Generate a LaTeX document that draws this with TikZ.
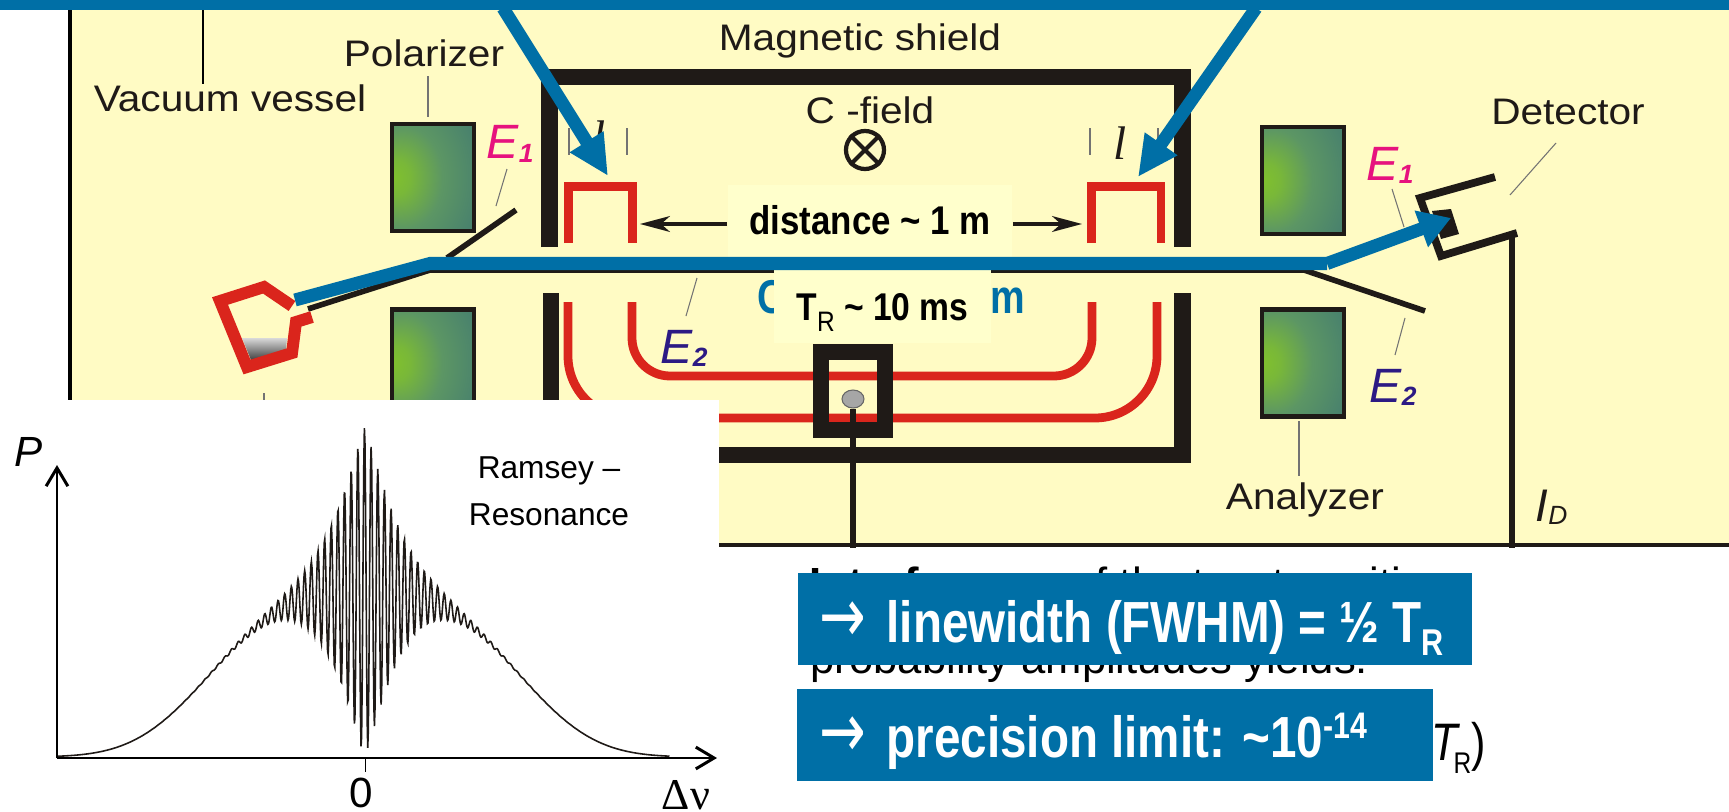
\documentclass[tikz,border=0pt]{standalone}
\usepackage{fontspec}
\usepackage{tikz}
\usepackage{xcolor}
\usetikzlibrary{arrows.meta, positioning, shapes}
\setmainfont{Liberation Sans}
\newfontfamily\widesans[FakeStretch=1.1]{Liberation Sans}
\newfontfamily\narrowsans[FakeStretch=0.82]{Liberation Sans}
\newfontfamily\distsans[FakeStretch=0.87]{Liberation Sans}
\newfontfamily\arrowsans[FakeStretch=0.72]{DejaVu Sans}
\newfontfamily\serifsym{Liberation Serif}
\newcommand{\fs}[1]{\fontsize{#1}{#1}\selectfont}
\definecolor{myblue}{RGB}{0, 111, 166}
\definecolor{myred}{RGB}{218, 37, 28}
\definecolor{myblack}{RGB}{31, 26, 23}
\definecolor{myyellow}{RGB}{255, 251, 196}
\definecolor{mypale}{RGB}{255, 255, 204}
\definecolor{mypink}{RGB}{230, 18, 126}
\definecolor{mynavy}{RGB}{44, 26, 132}
\definecolor{mygreena}{RGB}{128, 192, 46}
\definecolor{mygreenb}{RGB}{92, 150, 100}
\definecolor{mygreenc}{RGB}{66, 122, 112}
\pgfdeclareradialshading{coilgreen}{\pgfpoint{-24bp}{0bp}}{%
  color(0bp)=(mygreena); color(8bp)=(mygreena!80!mygreenb);
  color(24bp)=(mygreenb); color(50bp)=(mygreenc); color(100bp)=(mygreenc)}

\begin{document}
\begin{tikzpicture}[x=0.01cm,y=-0.01cm,
          label/.style={font=\widesans\fs{10.5},text=myblack,inner sep=0pt},
          thinline/.style={draw=black!55,line width=.3pt},
          shield/.style={draw=myblack,line width=4.6pt},
          plate/.style={draw=myblack,line width=1.6pt},
          redline/.style={draw=myred,line width=2.5pt},
          beam/.style={draw=myblue,line width=3.7pt},
          feed/.style={draw=myblue,line width=3.7pt,
                       -{Triangle[length=11.5pt,width=10.5pt]}},
          pointer/.style={draw=myblack,line width=.9pt,
                          -{Stealth[length=8.5pt,width=4.5pt,inset=2.5pt]}},
          axis/.style={draw=black,line width=.85pt,
                       -{Straight Barb[length=5.2pt,width=6.2pt]}},
          magnet/.style={rectangle,draw=myblack,line width=1.3pt,shading=coilgreen,
                         minimum width=.82cm,minimum height=1.07cm,inner sep=0pt},
          note/.style={fill=mypale,inner sep=0pt,text=black},
          result/.style={fill=myblue,text=white,inner sep=0pt,minimum height=.92cm,
                         font=\narrowsans\bfseries\fs{16.5}},
          elabel/.style={font=\itshape\fs{13.7},inner sep=0pt}]
        \useasboundingbox (0,0) rectangle (1729,812);
        \fill[myyellow] (70,10) rectangle (1729,545);
        \draw[black,line width=1.1pt] (70,10)--(70,545);
        \draw[myblack,line width=1.2pt] (70,545)--(1729,545);
        \node[label](vacuum) at (230,98){Vacuum vessel};
        \node[label](polarizer) at (424,53){Polarizer};
        \node[label](shieldtext) at (860,41){Magnetic shield};
        \node[label](cfield) at (870,110){C -field};
        \node[label](detector) at (1568,112){Detector};
        \node[label](analyzer) at (1305,500){Analyzer};
        \coordinate (vesseltop) at (203,10);
        \draw[black,line width=.6pt] (vesseltop)--(vacuum.north -| vesseltop);
        \node[circle,draw=myblack,line width=1.2pt,minimum size=.38cm,inner sep=0pt](cmark) at (865,150){};
        \draw[myblack,line width=1.2pt] (cmark.45)--(cmark.225);
        \draw[myblack,line width=1.2pt] (cmark.135)--(cmark.315);
        \draw[thinline] (428,76)--(428,117);
        \draw[thinline] (507,169)--(496,206);
        \draw[thinline] (697,278)--(686,316);
        \draw[thinline] (1299,421)--(1299,476);
        \draw[thinline] (1392,189)--(1404,227);
        \draw[thinline] (1405,318)--(1395,355);
        \draw[thinline] (1556,143)--(1510,195);
        \draw[thinline] (264,393)--(264,400);
        \foreach \tickx in {569,627,1090,1158}
          \draw[thinline] (\tickx,128)--(\tickx,155);
        \node[magnet](polupper) at (433,177.5){};
        \node[magnet](pollower) at (433,363){};
        \node[magnet](anaupper) at (1303,180.5){};
        \node[magnet](analower) at (1303,363){};
        \node[elabel,text=mypink,anchor=base west](eleft) at (486,159){E\raisebox{-1pt}{\fs{7.5}\bfseries 1}};
        \node[elabel,text=mypink,anchor=base west](eright) at (1366,180){E\raisebox{-1pt}{\fs{7.5}\bfseries 1}};
        \node[elabel,text=mynavy,anchor=base west](emid) at (660,363){E\raisebox{-1pt}{\fs{7.5}\bfseries 2}};
        \node[elabel,text=mynavy,anchor=base west](eback) at (1369,402){E\raisebox{-1pt}{\fs{7.5}\bfseries 2}};
        \node[font=\serifsym\itshape\fs{13.4},text=myblack,inner sep=0pt](lleft) at (599,137){l};
        \node[font=\serifsym\itshape\fs{13.4},text=myblack,inner sep=0pt](lright) at (1120,143){l};
        \draw[shield] (549.5,247)--(549.5,77)--(1182.5,77)--(1182.5,247);
        \draw[shield] (551,293)--(551,455)--(1182.5,455)--(1182.5,293);
        \draw[redline] (568.5,243)--(568.5,186.5)--(632.5,186.5)--(632.5,243);
        \draw[redline] (1091.5,243)--(1091.5,186.5)--(1161,186.5)--(1161,243);
        \draw[redline,rounded corners=.38cm] (632,302)--(632,376)--(1092,376)--(1092,302);
        \draw[redline,rounded corners=.62cm] (568,302)--(568,418)--(1157,418)--(1157,302);
        \node[draw=myblack,line width=4.6pt,minimum width=.645cm,minimum height=.78cm,inner sep=0pt](coil) at (853,391){};
        \node[ellipse,draw=black!60,fill=black!35,line width=.3pt,minimum width=.22cm,minimum height=.18cm,inner sep=0pt](ball) at (853,399){};
        \coordinate (stemend) at (853,548);
        \draw[myblack,line width=1.6pt] (ball.south)--(stemend);
        \coordinate (idtop) at (1512,233);
        \coordinate (idend) at (1512,548);
        \draw[myblack,line width=1.5pt] (idtop)--(idend);
        \node[font=\itshape\fs{13},text=myblack,inner sep=0pt,anchor=base west](idlabel) at (1535,521){I\raisebox{-1pt}{\fs{7.5}D}};
        \draw[plate,line width=2.2pt] (1495,177)--(1420,198)--(1441,256)--(1517,233);
        \fill[myblack] (1432,211)--(1451,209)--(1459,234)--(1441,239)--cycle;
        \draw[plate] (516,210)--(447,258);
        \draw[plate] (1304,270)--(1425,311);
        \draw[plate] (308,309)--(430,270)--(1304,270);
        \shade[top color=black!15,bottom color=black!75] (242,338)--(287,338)--(286,350)--(251,360)--cycle;
        \draw[myred,line width=3.4pt] (292,306)--(264,287)--(220,301)--(247,367)--(292,353)--(296,322)--(312,317);
        \node[font=\narrowsans\bfseries\fs{13.5},text=myblue,inner sep=0pt,anchor=base west](beamc) at (757,313){C};
        \node[font=\narrowsans\bfseries\fs{13.5},text=myblue,inner sep=0pt,anchor=base east](beamm) at (1026,313){m};
        \node[note,minimum width=2.84cm,text height=.49cm,text depth=.23cm,font=\distsans\bfseries\fs{11.4}](distbox) at (870,221){distance \textasciitilde{} 1 m};
        \node[note,minimum width=2.17cm,text height=.5cm,text depth=.23cm,font=\distsans\bfseries\fs{11}](trbox) at (882.5,306.5){T\raisebox{-3.4pt}{\mdseries\fs{8}R} \textasciitilde{} 10 ms};
        \coordinate (tipleft) at (640,224);
        \coordinate (tipright) at (1082,224);
        \draw[pointer] (distbox.west) ++(0,3)--(tipleft);
        \draw[pointer] (distbox.east) ++(0,3)--(tipright);
        \coordinate (srcstart) at (295,300);
        \coordinate (bendleft) at (430,263.5);
        \coordinate (bendright) at (1327,263.5);
        \coordinate (dettip) at (1451,218);
        \draw[beam] (srcstart)--(bendleft)--(bendright);
        \draw[feed,-{Triangle[length=9pt,width=10.5pt]}] (bendright)--(dettip);
        \coordinate (feedlefta) at (503,8);
        \coordinate (feedleftb) at (608,176);
        \coordinate (feedrighta) at (1256,8);
        \coordinate (feedrightb) at (1138,177);
        \draw[feed] (feedlefta)--(feedleftb);
        \draw[feed] (feedrighta)--(feedrightb);
        \fill[myblue] (0,0) rectangle (1729,10);
        \fill[white] (0,400) rectangle (719,812);
        \coordinate (origin) at (57,758);
        \coordinate (ytip) at (57,465);
        \coordinate (xtip) at (717,758);
        \draw[myblack,line width=.45pt] plot[domain=-308:305,samples=1100]
          ({\x+364.5},{757-165*exp(-(abs(\x)/175)^3)-165*exp(-((abs(\x)+0.01)/37)^1.2)*cos(54.135*mod(\x,6.65))});
        \draw[axis] (origin)--(ytip);
        \draw[axis] (origin)--(xtip);
        \coordinate (tickbase) at (365.5,758);
        \coordinate (tickend) at (365.5,772);
        \draw[black,line width=.5pt] (tickbase)--(tickend);
        \node[font=\itshape\fs{12},inner sep=0pt](plabel) at (29,452){P};
        \node[font=\fs{12},inner sep=0pt](zerolabel) at (361,793){0};
        \node[font=\serifsym\fs{12.5},inner sep=0pt](dnulabel) at (686,795){Δν};
        \node[align=center,font=\fontsize{9}{13.4}\selectfont,inner sep=0pt](ramsey) at (549,491){Ramsey –\\Resonance};
        \node[font=\fs{12.4},anchor=base west,inner sep=0pt](textone) at (809,598){\textbf{Interference} of the two transitions};
        \node[font=\fs{12.4},anchor=base west,inner sep=0pt](texttwo) at (810,673){probability amplitudes yields:};
        \node[font=\narrowsans\fs{15},anchor=base west,inner sep=0pt](textthree) at (1431,760){\textit{T}\hspace{-2pt}\raisebox{-3.7pt}{\fs{8.5}R}\fs{15})};
        \node[result,minimum width=6.74cm](lineres) at (1135,619){};
        \node[result,minimum width=6.36cm](precres) at (1115,735){};
        \node[font=\narrowsans\bfseries\fs{16.5},text=white,anchor=base west,inner sep=0pt](linetext) at (819,642){{\arrowsans\mdseries\fs{22}→} \hspace{2pt}linewidth (FWHM) = ½ T\raisebox{-3.7pt}{\fs{10.6}R}};
        \node[font=\narrowsans\bfseries\fs{16.5},text=white,anchor=base west,inner sep=0pt](prectext) at (819,757){{\arrowsans\mdseries\fs{22}→} \hspace{2pt}precision limit: \textasciitilde{}10\raisebox{5.4pt}{\fs{10.5}-14}};
      \end{tikzpicture}
\end{document}
